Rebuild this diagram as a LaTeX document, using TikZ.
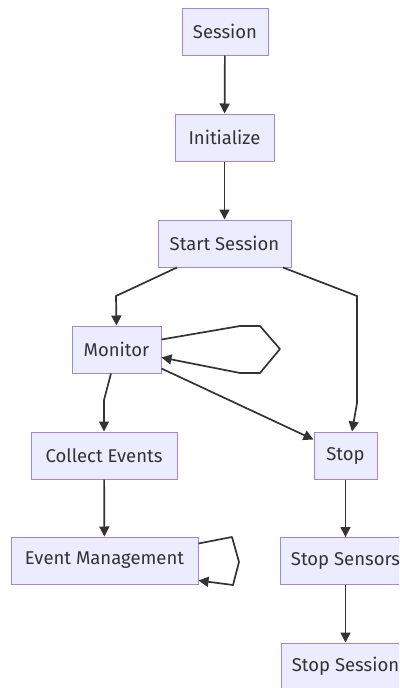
\documentclass[tikz,border=0pt]{standalone}
\usepackage{fontspec}
\setmainfont{Fira Sans}
\usetikzlibrary{arrows.meta}
\definecolor{boxfill}{HTML}{ECECFF}
\definecolor{boxline}{HTML}{9370DB}
\definecolor{ink}{HTML}{333333}
\tikzset{
  flowbox/.style={draw=boxline!85!white, fill=boxfill, line width=1pt, text=ink,
    inner sep=0pt, minimum height=47pt, font=\fontsize{18.5}{22}\selectfont},
  link/.style={draw=ink, line width=1.7pt, line join=round,
    -{Triangle[length=10pt,width=10pt]}},
}
\begin{document}
\begin{tikzpicture}[x=1pt,y=-1pt]
\useasboundingbox (0,0) rectangle (399,688);
\clip (0,0) rectangle (399,688);

% boxes
\node[flowbox, minimum width=86pt]  (session) at (225,31.5)    {Session};
\node[flowbox, minimum width=99pt]  (init)    at (224.5,137.5) {Initialize};
\node[flowbox, minimum width=133pt] (start)   at (224.5,243.5) {Start Session};
\node[flowbox, minimum width=89pt]  (monitor) at (116.5,349.5) {Monitor};
\node[flowbox, minimum width=146pt] (collect) at (104,455.5)   {Collect Events};
\node[flowbox, minimum width=187pt] (evm)     at (104.5,560.5) {Event Management};
\node[flowbox, minimum width=63pt]  (stop)    at (345.5,455.5) {Stop};
\node[flowbox, minimum width=131pt] (sensors) at (345.5,561)   {Stop Sensors};
\node[flowbox, minimum width=129pt] (ssess)   at (345.5,666.5) {Stop Session};

% connectors
\draw[link] (session) -- (init);
\draw[link] (init) -- (start);
\draw[link] ([xshift=-47.5pt]start.south) -- (116,296) -- (monitor.north);
\draw[link] ([xshift=58.5pt]start.south) -- (357,296) -- (357,403) -- ([xshift=6.5pt]stop.north);
\draw[link] ([xshift=-5.5pt]monitor.south) -- (104,400) -- (collect.north);
\draw[link] ([yshift=5pt]monitor.south east) -- ([yshift=-8pt]stop.north west);
\draw[link] ([yshift=-14pt]monitor.north east) -- (240,326) -- (260,326) -- (280,349)
  -- (260,373) -- (240,373) -- ([yshift=-32pt]monitor.north east);
\draw[link] (collect) -- (evm);
\draw[link] ([yshift=-7pt]evm.north east) -- (232,537) -- (239,562) -- (233,585)
  -- ([yshift=4pt]evm.south east);
\draw[link] (stop) -- (sensors);
\draw[link] (sensors) -- (ssess);
\end{tikzpicture}
\end{document}
